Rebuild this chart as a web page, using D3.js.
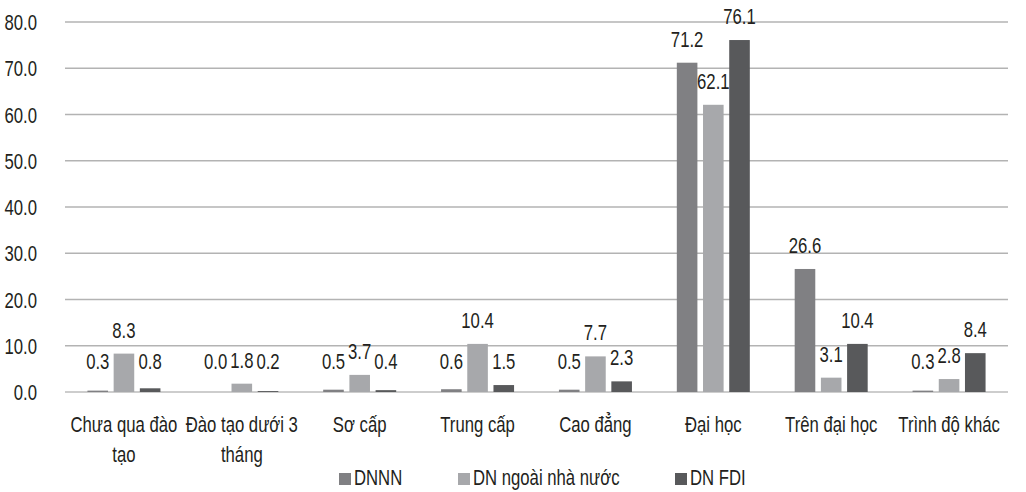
<!DOCTYPE html>
<html><head><meta charset="utf-8">
<script src="https://cdn.jsdelivr.net/npm/d3@7"></script>
<style>
html,body{margin:0;padding:0;background:#fff;}
svg text{font-family:"Liberation Sans",Arial,sans-serif;fill:#231f20;}
</style></head>
<body><svg id="c" width="1026" height="492"></svg>
<script>
const categories = [["Chưa qua đào","tạo"],["Đào tạo dưới 3","tháng"],["Sơ cấp"],["Trung cấp"],["Cao đẳng"],["Đại học"],["Trên đại học"],["Trình độ khác"]];
const seriesNames = ["DNNN","DN ngoài nhà nước","DN FDI"];
const dnnn = [0.3,0.0,0.5,0.6,0.5,71.2,26.6,0.3];
const dnNgoai = [8.3,1.8,3.7,10.4,7.7,62.1,3.1,2.8];
const dnFdi = [0.8,0.2,0.4,1.5,2.3,76.1,10.4,8.4];
const yTicks = [0,10,20,30,40,50,60,70,80];
const colors = ["#808083","#a7a8ab","#58595b"];

(function(){
const SX = 0.76, FS = 22;
const values = [dnnn,dnNgoai,dnFdi];
const svg = d3.select("#c");
const mLeft = 65, mRight = 1008, mTop = 22, mBottom = 392;
const x0 = d3.scaleBand().domain(d3.range(categories.length)).range([mLeft,mRight]).padding(0);
const x1 = d3.scaleBand().domain(d3.range(3)).range([-36.5,36.5]).paddingInner(0.214).paddingOuter(0);
const y = d3.scaleLinear().domain([0,80]).range([mBottom,mTop]);

svg.append("g").selectAll("line").data(yTicks).join("line")
  .attr("x1",mLeft).attr("x2",mRight)
  .attr("y1",d=>y(d)).attr("y2",d=>y(d))
  .attr("stroke",d=>d===0?"#bdbdbd":"#b3b3b3").attr("stroke-width",1.3);

const yAxis = d3.axisLeft(y).tickValues(yTicks).tickFormat(d3.format(".1f")).tickSize(0).tickPadding(0);
const ya = svg.append("g").attr("transform","translate(37,0)").call(yAxis);
ya.select(".domain").remove();
ya.attr("font-family",null).attr("font-size",null);
ya.selectAll("text").attr("font-size",FS).attr("fill","#231f20").attr("x",0).attr("dy","0.35em")
  .attr("transform",`scale(${SX},1)`);

const groups = svg.append("g").selectAll("g").data(categories).join("g")
  .attr("transform",(d,i)=>`translate(${x0(i)+x0.bandwidth()/2},0)`);
groups.each(function(c,i){
  const g = d3.select(this);
  const vals = values.map(s=>s[i]);
  g.selectAll("rect").data(vals).join("rect")
    .attr("x",(v,j)=>x1(j)).attr("width",x1.bandwidth())
    .attr("y",v=>y(v)).attr("height",v=>mBottom-y(v))
    .attr("fill",(v,j)=>colors[j]);
  g.selectAll("text.val").data(vals).join("text").attr("class","val")
    .attr("transform",(v,j)=>`translate(${x1(j)+x1.bandwidth()/2},${Math.min(y(v)-16,369)}) scale(${SX},1)`)
    .attr("text-anchor","middle").attr("font-size",FS)
    .text(v=>v.toFixed(1));
});

const xl = svg.append("g").selectAll("text").data(categories).join("text")
  .attr("transform",(d,i)=>`translate(${x0(i)+x0.bandwidth()/2},432) scale(${SX},1)`)
  .attr("text-anchor","middle").attr("font-size",FS);
xl.selectAll("tspan").data(d=>d).join("tspan")
  .attr("x",0)
  .attr("dy",(d,k)=>k===0?0:30).text(d=>d);

const legX = [339,458,675];
const leg = svg.append("g").selectAll("g").data(seriesNames).join("g")
  .attr("transform",(d,i)=>`translate(${legX[i]},473)`);
leg.append("rect").attr("width",12).attr("height",12).attr("fill",(d,i)=>colors[i]);
leg.append("text").attr("transform",`translate(15,12) scale(${SX},1)`).attr("font-size",FS).text(d=>d);
})();
</script></body></html>
